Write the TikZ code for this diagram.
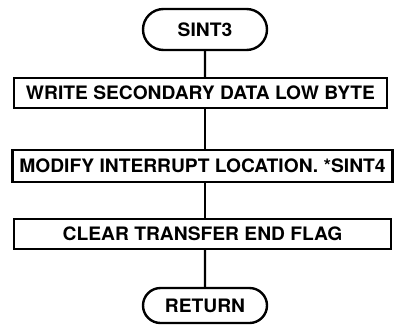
\documentclass[tikz,border=0pt]{standalone}
\usepackage{fontspec}
\setmainfont{TeX Gyre Heros}[FakeStretch=1.04]
\usetikzlibrary{shapes.misc}

\begin{document}
\begin{tikzpicture}[x=1pt,y=1pt,line width=2.4pt,
  term/.style={draw,rounded rectangle,minimum width=124pt,minimum height=41pt,inner sep=0pt,font=\fontsize{18.5}{20}\selectfont\bfseries},
  proc/.style={draw,rectangle,minimum height=30pt,inner sep=0pt,font=\fontsize{18.5}{20}\selectfont\bfseries}]
\useasboundingbox (0,0) rectangle (395,-324);
\node[term] (sint3) at (205,-29.5){SINT3};
\node[proc,minimum width=373pt] (wrlow) at (200.5,-93){WRITE SECONDARY DATA LOW BYTE};
\node[proc,minimum width=380pt,minimum height=32pt] (modint) at (202.5,-166){MODIFY INTERRUPT LOCATION. *SINT4};
\node[proc,minimum width=377pt] (clrflag) at (202.5,-234){CLEAR TRANSFER END FLAG};
\node[term,minimum height=35pt] (ret) at (205,-305.5){RETURN};
\draw (sint3)--(sint3|-wrlow.north);
\draw (wrlow.south-|sint3)--(sint3|-modint.north);
\draw (modint.south-|sint3)--(sint3|-clrflag.north);
\draw (clrflag.south-|sint3)--(ret);
\end{tikzpicture}
\end{document}
